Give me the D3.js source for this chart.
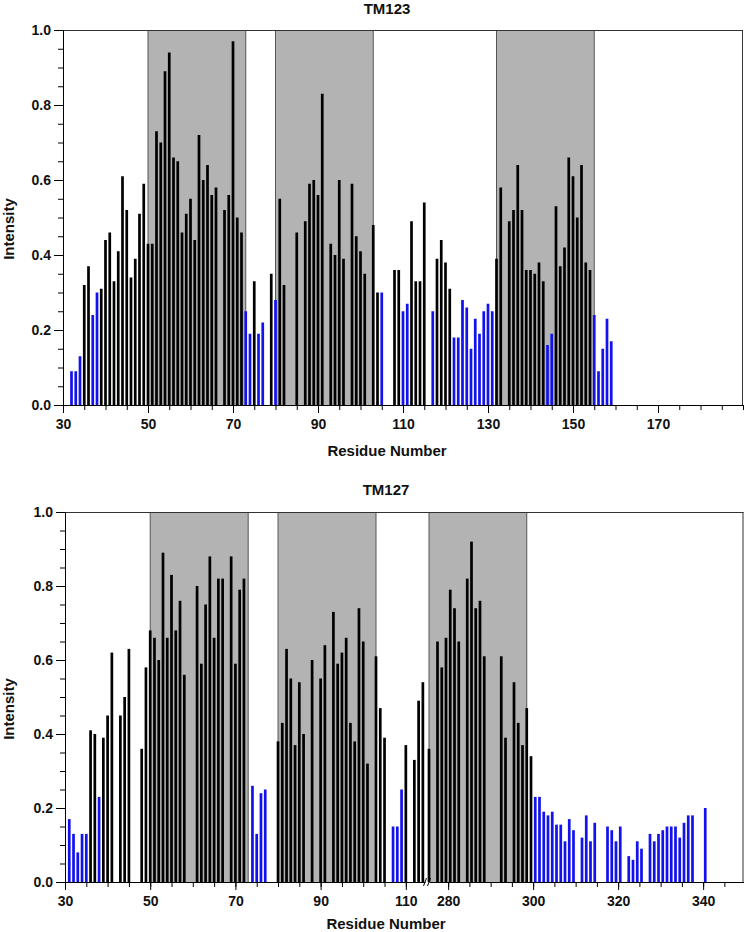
<!DOCTYPE html>
<html>
<head>
<meta charset="utf-8">
<script src="https://cdn.jsdelivr.net/npm/d3@7"></script>
<style>
  html, body { margin: 0; padding: 0; background: #fff; }
  svg text { font-family: "Liberation Sans", Arial, sans-serif; font-weight: bold; fill: #111; }
</style>
</head>
<body>
<svg id="chart" width="745" height="932"></svg>
<script>
// ---------------- DATA ----------------
// TM123 panel
const tm123Residues = [32,33,34,35,36,37,38,39,40,41,42,43,44,45,46,47,48,49,50,51,52,53,54,55,56,57,58,59,60,61,62,63,64,65,66,68,69,70,71,72,73,74,75,76,77,79,80,81,82,85,87,88,89,90,91,93,94,95,96,98,99,100,101,103,104,105,108,109,110,111,112,113,114,115,117,118,119,120,121,122,123,124,125,126,127,128,129,130,131,132,133,135,136,137,138,139,140,141,142,143,144,145,146,147,148,149,150,151,152,153,154,155,156,157,158,159];
const tm123Values = [0.09,0.09,0.13,0.32,0.37,0.24,0.30,0.31,0.44,0.46,0.33,0.41,0.61,0.52,0.34,0.39,0.51,0.59,0.43,0.43,0.73,0.70,0.89,0.94,0.66,0.65,0.46,0.51,0.55,0.44,0.72,0.60,0.64,0.56,0.58,0.52,0.56,0.97,0.50,0.46,0.25,0.19,0.33,0.19,0.22,0.35,0.28,0.55,0.32,0.46,0.49,0.59,0.60,0.56,0.83,0.43,0.40,0.60,0.39,0.59,0.45,0.41,0.35,0.48,0.30,0.30,0.36,0.36,0.25,0.27,0.49,0.33,0.33,0.54,0.25,0.39,0.44,0.38,0.31,0.18,0.18,0.28,0.26,0.15,0.23,0.19,0.25,0.27,0.25,0.39,0.58,0.49,0.52,0.64,0.52,0.36,0.36,0.35,0.38,0.33,0.16,0.19,0.53,0.37,0.42,0.66,0.61,0.50,0.64,0.38,0.36,0.24,0.09,0.15,0.23,0.17];
const tm123Blue = [32,33,34,37,38,73,74,76,77,80,105,110,111,117,122,123,124,125,126,127,128,129,130,131,144,145,155,156,157,158,159];
const tm123Bands = [[50,73],[80,103],[132,155]];
const tm123TickLabels = [30,50,70,90,110,130,150,170];

// TM127 panel (broken axis: 30–114 | 276–349)
const tm127Residues = [31,32,33,34,35,36,37,38,39,40,41,43,44,45,48,49,50,51,52,53,54,55,56,57,58,61,62,63,64,65,66,67,69,70,71,72,74,75,76,77,80,81,82,83,84,85,86,88,90,91,93,94,95,96,97,98,99,100,101,103,104,105,107,108,109,110,112,113,114,
  276,278,279,280,281,282,283,285,286,287,288,289,293,294,296,297,298,299,300,301,302,303,304,305,306,307,308,309,310,312,313,314,315,318,319,320,321,323,324,325,326,328,329,330,331,332,333,334,335,336,337,338,341];
const tm127Values = [0.17,0.13,0.08,0.13,0.13,0.41,0.40,0.23,0.39,0.45,0.62,0.45,0.50,0.63,0.36,0.58,0.68,0.66,0.60,0.89,0.66,0.83,0.68,0.76,0.56,0.80,0.59,0.75,0.88,0.66,0.82,0.82,0.88,0.59,0.79,0.82,0.26,0.13,0.24,0.25,0.38,0.43,0.63,0.55,0.37,0.54,0.40,0.60,0.55,0.64,0.73,0.59,0.62,0.66,0.43,0.38,0.74,0.65,0.32,0.61,0.47,0.39,0.15,0.15,0.25,0.37,0.33,0.49,0.54,
  0.36,0.65,0.58,0.66,0.79,0.74,0.65,0.82,0.92,0.74,0.76,0.61,0.61,0.39,0.54,0.43,0.37,0.47,0.34,0.23,0.23,0.19,0.18,0.19,0.155,0.155,0.11,0.17,0.14,0.12,0.18,0.11,0.16,0.15,0.14,0.11,0.15,0.07,0.06,0.11,0.09,0.13,0.11,0.13,0.14,0.15,0.15,0.15,0.12,0.16,0.18,0.18,0.20];
const tm127Blue = [31,32,33,34,35,38,74,75,76,77,107,108,109,301,302,303,304,305,306,307,308,309,310,312,313,314,315,318,319,320,321,323,324,325,326,328,329,330,331,332,333,334,335,336,337,338,341];
const tm127Bands = [[50,73],[80,103],[276,299]];
const tm127TickLabelsLeft = [30,50,70,90,110];
const tm127TickLabelsRight = [280,300,320,340];

const yTickLabels = [0,0.2,0.4,0.6,0.8,1.0];

// ---------------- STYLE ----------------
const BLACK = "#000000", BLUE = "#1212ee", BAND = "#b3b3b3", BAND_EDGE = "#555";
const BAR_W = 2.7;

const svg = d3.select("#chart");

function yAxes(g, y, x0) {
  g.append("g").attr("transform", `translate(${x0},0)`)
    .call(d3.axisLeft(y).tickValues(d3.range(0, 1.0001, 0.05)).tickSize(5).tickSizeOuter(0).tickFormat(""))
    .call(a => a.select(".domain").remove());
  const ya = g.append("g").attr("transform", `translate(${x0},0)`)
    .call(d3.axisLeft(y).tickValues(yTickLabels).tickSize(9).tickSizeOuter(0).tickPadding(3).tickFormat(d3.format(".1f")));
  ya.select(".domain").attr("stroke", "#000");
  ya.selectAll("text").attr("font-size", 14).attr("font-family", '"Liberation Sans", Arial, sans-serif').attr("font-weight", "bold").attr("fill", "#111");
}

function xAxis(g, x, y0, ticks, labels) {
  g.append("g").attr("transform", `translate(0,${y0})`)
    .call(d3.axisBottom(x).tickValues(ticks).tickSize(5).tickSizeOuter(0).tickFormat(""))
    .call(a => a.select(".domain").attr("stroke", "#000"));
  const xa = g.append("g").attr("transform", `translate(0,${y0})`)
    .call(d3.axisBottom(x).tickValues(labels).tickSize(8).tickSizeOuter(0).tickPadding(6))
    .call(a => a.select(".domain").remove());
  xa.selectAll("text").attr("font-size", 14).attr("font-family", '"Liberation Sans", Arial, sans-serif').attr("font-weight", "bold").attr("fill", "#111");
}

// ---------------- PANEL 1: TM123 ----------------
(function () {
  const left = 63, right = 743, top = 30, bottom = 405;
  const x = d3.scaleLinear().domain([30, 190]).range([left, right]);
  const y = d3.scaleLinear().domain([0, 1]).range([bottom, top]);
  const g = svg.append("g");

  g.selectAll("rect.band").data(tm123Bands).join("rect")
    .attr("x", d => x(d[0])).attr("width", d => x(d[1]) - x(d[0]))
    .attr("y", top).attr("height", bottom - top).attr("fill", BAND);
  tm123Bands.forEach(b => b.forEach(v => {
    g.append("line").attr("x1", x(v)).attr("x2", x(v)).attr("y1", top).attr("y2", bottom)
      .attr("stroke", BAND_EDGE).attr("stroke-width", 1);
  }));

  const data = tm123Residues.map((r, i) => ({ r, v: tm123Values[i], blue: tm123Blue.includes(r) }));
  g.selectAll("rect.bar").data(data).join("rect")
    .attr("x", d => x(d.r) - BAR_W / 2).attr("width", BAR_W)
    .attr("y", d => y(d.v)).attr("height", d => y(0) - y(d.v))
    .attr("fill", d => d.blue ? BLUE : BLACK);

  // frame
  g.append("line").attr("x1", left).attr("x2", right).attr("y1", top + 0.5).attr("y2", top + 0.5).attr("stroke", "#333");
  g.append("line").attr("x1", right - 0.5).attr("x2", right - 0.5).attr("y1", top).attr("y2", bottom).attr("stroke", "#333");

  xAxis(g, x, bottom, d3.range(30, 191, 5), tm123TickLabels);
  yAxes(g, y, left);

  g.append("text").attr("x", 387).attr("y", 14).attr("text-anchor", "middle").attr("font-size", 15).text("TM123");
  g.append("text").attr("x", 387).attr("y", 456).attr("text-anchor", "middle").attr("font-size", 15).text("Residue Number");
  g.append("text").attr("transform", "translate(14,229) rotate(-90)").attr("text-anchor", "middle").attr("font-size", 15).text("Intensity");
})();

// ---------------- PANEL 2: TM127 ----------------
(function () {
  const left = 65, right = 743.5, top = 512, bottom = 882;
  const breakL = 425, breakR = 429;
  const xL = d3.scaleLinear().domain([30, 114.5]).range([left, breakL]);
  const xR = d3.scaleLinear().domain([275.5, 349.5]).range([breakR, right]);
  const xPos = r => r < 200 ? xL(r) : xR(r - 0.5);
  const y = d3.scaleLinear().domain([0, 1]).range([bottom, top]);
  const g = svg.append("g");

  g.selectAll("rect.band").data(tm127Bands).join("rect")
    .attr("x", d => xPos(d[0])).attr("width", d => xPos(d[1]) - xPos(d[0]))
    .attr("y", top).attr("height", bottom - top).attr("fill", BAND);
  tm127Bands.forEach(b => b.forEach(v => {
    g.append("line").attr("x1", xPos(v)).attr("x2", xPos(v)).attr("y1", top).attr("y2", bottom)
      .attr("stroke", BAND_EDGE).attr("stroke-width", 1);
  }));

  const data = tm127Residues.map((r, i) => ({ r, v: tm127Values[i], blue: tm127Blue.includes(r) }));
  g.selectAll("rect.bar").data(data).join("rect")
    .attr("x", d => xPos(d.r) - BAR_W / 2).attr("width", BAR_W)
    .attr("y", d => y(d.v)).attr("height", d => y(0) - y(d.v))
    .attr("fill", d => d.blue ? BLUE : BLACK);

  g.append("line").attr("x1", left).attr("x2", right).attr("y1", top + 0.5).attr("y2", top + 0.5).attr("stroke", "#333");
  g.append("line").attr("x1", right - 0.5).attr("x2", right - 0.5).attr("y1", top).attr("y2", bottom).attr("stroke", "#333");

  xAxis(g, xL, bottom, d3.range(30, 114, 5), tm127TickLabelsLeft);
  xAxis(g, xR, bottom, d3.range(280, 349, 5), tm127TickLabelsRight);
  yAxes(g, y, left);

  // break marks
  [breakL, breakR].forEach(bx => {
    g.append("line").attr("x1", bx - 1.5).attr("x2", bx + 1.5).attr("y1", bottom + 4).attr("y2", bottom - 4)
      .attr("stroke", "#000").attr("stroke-width", 1);
  });

  g.append("text").attr("x", 386).attr("y", 495).attr("text-anchor", "middle").attr("font-size", 15).text("TM127");
  g.append("text").attr("x", 386).attr("y", 929).attr("text-anchor", "middle").attr("font-size", 15).text("Residue Number");
  g.append("text").attr("transform", "translate(14,709) rotate(-90)").attr("text-anchor", "middle").attr("font-size", 15).text("Intensity");
})();
</script>
</body>
</html>
